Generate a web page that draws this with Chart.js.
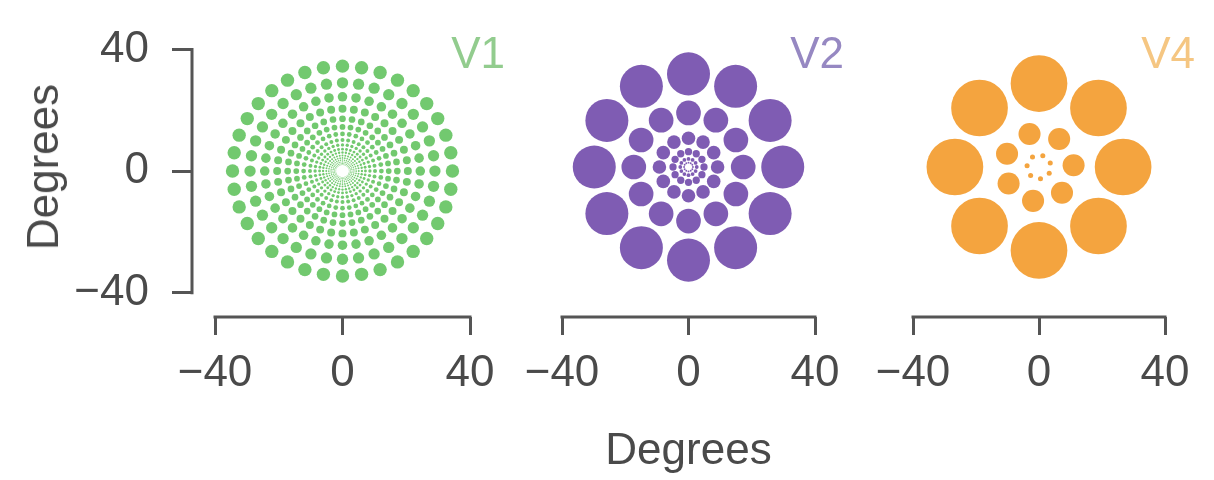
<!DOCTYPE html>
<html>
<head>
<meta charset="utf-8">
<title>Receptive field tiling</title>
<script src="https://cdn.jsdelivr.net/npm/chart.js@4.4.1/dist/chart.umd.min.js"></script>
<style>
  body { margin: 0; background: #ffffff; }
  #wrap { position: relative; width: 1214px; height: 480px; overflow: hidden; }
  #wrap canvas { position: absolute; left: 0; top: 0; }
  .lbl { position: absolute; font-family: "Liberation Sans", Arial, Helvetica, sans-serif;
         font-size: 44px; line-height: 44px; white-space: nowrap; }
</style>
</head>
<body>
<div id="wrap">
  <canvas id="v1Chart" width="1214" height="480"></canvas>
  <canvas id="v2Chart" width="1214" height="480"></canvas>
  <canvas id="v4Chart" width="1214" height="480"></canvas>
  <div class="lbl" id="yTitle" style="left:43px; top:167px; color:#4a4a4a; transform:translate(-50%,-50%) rotate(-90deg);">Degrees</div>
  <div class="lbl" style="right:709px; top:31px; color:#92cc8e;">V1</div>
  <div class="lbl" style="right:370px; top:31px; color:#9688c2;">V2</div>
  <div class="lbl" style="right:19px; top:31px; color:#f5c682;">V4</div>
</div>
<script>
// tick labels shared by all panels (degrees)
const tickVals = [-40, 0, 40];

// rings: eccentricity (deg), dot diameter (deg),
// dots per ring and the angle of the first dot in each ring (deg)
const v1Ecc   = [34.5, 29, 24.4, 20.5, 17.2, 14.5, 12.2, 10.2, 8.6, 7.2, 6.1, 5.1, 4.3, 3.6, 3.0, 2.5, 2.1];
const v1Size  = [4.2, 3.55, 3.0, 2.5, 2.1, 1.8, 1.5, 1.25, 1.05, 0.9, 0.75, 0.63, 0.53, 0.45, 0.38, 0.32, 0.27];
const v1Count = [36, 36, 36, 36, 36, 36, 36, 36, 36, 36, 36, 36, 36, 36, 36, 36, 36];
const v1Phase = [0, 0, 0, 0, 0, 0, 0, 0, 0, 0, 0, 0, 0, 0, 0, 0, 0];

const v2Ecc   = [29.8, 17.3, 9.2, 4.9, 2.6, 1.4];
const v2Size  = [13.6, 7.8, 4.3, 2.3, 1.2, 0.6];
const v2Count = [12, 12, 12, 12, 12, 12];
const v2Phase = [0, 0, 0, 0, 0, 0];

const v4Ecc   = [26.7, 11, 3.8];
const v4Size  = [18, 7, 1.6];
const v4Count = [8, 7, 7];
const v4Phase = [0, 3, 20];

const fontFamily = '"Liberation Sans", Arial, Helvetica, sans-serif';
const axisColor = '#555555';
const textColor = '#4a4a4a';

// pixel layout of the reference figure
const plotTop = 42;      // y = 40
const plotZeroY = 292;   // y = -40
const axisLineY = 317;   // detached x axis line
const yAxisLineX = 192;  // detached y axis line (first panel only)

function ringPoints(ecc, size, count, phase) {
    const pts = [];
    for (let i = 0; i < ecc.length; i++) {
        for (let k = 0; k < count[i]; k++) {
            const a = (phase[i] + k * 360 / count[i]) * Math.PI / 180;
            pts.push({ x: ecc[i] * Math.cos(a), y: ecc[i] * Math.sin(a), d: size[i] });
        }
    }
    return pts;
}

function fmtTick(v) {
    return v < 0 ? '\u2212' + Math.abs(v) : String(v);
}

// axis lines trimmed to the -40..40 range, like the reference
const trimAxes = {
    id: 'trimAxes',
    afterDraw(chart) {
        const { ctx, chartArea, scales } = chart;
        ctx.save();
        ctx.strokeStyle = axisColor;
        ctx.lineWidth = 3;
        ctx.beginPath();
        ctx.moveTo(scales.x.getPixelForValue(-40) - 1.5, chartArea.bottom);
        ctx.lineTo(scales.x.getPixelForValue(40) + 1.5, chartArea.bottom);
        if (scales.y.options.display) {
            ctx.moveTo(chartArea.left, scales.y.getPixelForValue(40) - 1.5);
            ctx.lineTo(chartArea.left, scales.y.getPixelForValue(-40) + 1.5);
        }
        ctx.stroke();
        ctx.restore();
    }
};

function createPanel(id, points, color, px0, px1, withYAxis, withXTitle) {
    const pxPerDeg = (px1 - px0) / 80;
    const areaLeft = withYAxis ? yAxisLineX : px0;
    const xMin = -40 - (px0 - areaLeft) / pxPerDeg;
    const pyPerDeg = (plotZeroY - plotTop) / 80;
    const yMin = -40 - (axisLineY - plotZeroY) / pyPerDeg;

    const ctx = document.getElementById(id).getContext('2d');
    return new Chart(ctx, {
        type: 'scatter',
        data: {
            datasets: [{
                data: points,
                backgroundColor: color,
                borderWidth: 0,
                pointRadius: c => {
                    if (!c.raw) return 3;
                    const sx = c.chart.scales.x;
                    return Math.max(0.4, Math.abs(sx.getPixelForValue(c.raw.d / 2) - sx.getPixelForValue(0)));
                },
                clip: false
            }]
        },
        plugins: [trimAxes],
        options: {
            responsive: false,
            animation: false,
            events: [],
            layout: {
                padding: { left: withYAxis ? 0 : areaLeft, right: 1214 - px1, top: plotTop, bottom: 0 }
            },
            plugins: {
                legend: { display: false },
                tooltip: { enabled: false }
            },
            scales: {
                x: {
                    type: 'linear',
                    min: xMin,
                    max: 40,
                    afterBuildTicks: s => { s.ticks = tickVals.map(v => ({ value: v })); },
                    afterFit: s => { s.height = 480 - axisLineY; },
                    border: { display: false },
                    grid: { drawOnChartArea: false, drawTicks: true, tickLength: 18, color: axisColor, lineWidth: 3 },
                    ticks: {
                        callback: fmtTick,
                        color: textColor,
                        padding: 12,
                        maxRotation: 0,
                        autoSkip: false,
                        font: { family: fontFamily, size: 44 }
                    },
                    title: {
                        display: withXTitle,
                        text: 'Degrees',
                        color: textColor,
                        padding: { top: 0, bottom: 2 },
                        font: { family: fontFamily, size: 44 }
                    }
                },
                y: {
                    type: 'linear',
                    display: withYAxis,
                    min: yMin,
                    max: 40,
                    afterBuildTicks: s => { s.ticks = tickVals.map(v => ({ value: v })); },
                    afterFit: s => { s.width = withYAxis ? yAxisLineX : 0; },
                    border: { display: false },
                    grid: { drawOnChartArea: false, drawTicks: true, tickLength: 20, color: axisColor, lineWidth: 3 },
                    ticks: {
                        callback: fmtTick,
                        color: textColor,
                        padding: 23,
                        autoSkip: false,
                        font: { family: fontFamily, size: 44 }
                    }
                }
            }
        }
    });
}

createPanel('v1Chart', ringPoints(v1Ecc, v1Size, v1Count, v1Phase), '#72c96f', 215, 470, true, false);
createPanel('v2Chart', ringPoints(v2Ecc, v2Size, v2Count, v2Phase), '#7f5cb3', 562, 815, false, true);
createPanel('v4Chart', ringPoints(v4Ecc, v4Size, v4Count, v4Phase), '#f4a43f', 913, 1165, false, false);
</script>
</body>
</html>
